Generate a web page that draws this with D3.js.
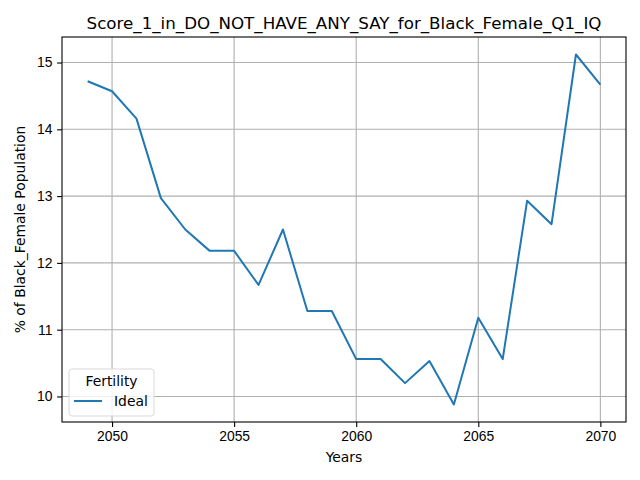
<!DOCTYPE html>
<html>
<head>
<meta charset="utf-8">
<script src="https://cdn.jsdelivr.net/npm/d3@7"></script>
<style>
  body { margin: 0; background: #fff; }
  svg { font-family: "DejaVu Sans", sans-serif; }
  .axis text { font-size: 13.9px; fill: #000; }
  .axis path, .axis line { stroke: #000; stroke-width: 1.1; }
  .grid line { stroke: #b0b0b0; stroke-width: 1.1; }
</style>
</head>
<body>
<div id="chart"></div>
<script>
// values
var years = [2049, 2050, 2051, 2052, 2053, 2054, 2055, 2056, 2057, 2058, 2059,
             2060, 2061, 2062, 2063, 2064, 2065, 2066, 2067, 2068, 2069, 2070];
var ideal = [14.72, 14.57, 14.16, 12.97, 12.50, 12.18, 12.18, 11.67, 12.50, 11.28, 11.28,
             10.56, 10.56, 10.20, 10.53, 9.88, 11.18, 10.56, 12.93, 12.58, 15.12, 14.67];
var xTicks = [2050, 2055, 2060, 2065, 2070];
var yTicks = [10, 11, 12, 13, 14, 15];

var width = 640, height = 480;
var margin = {top: 37, right: 14, bottom: 58, left: 62};
var w = width - margin.left - margin.right;
var h = height - margin.top - margin.bottom;

var svg = d3.select('#chart').append('svg')
    .attr('width', width)
    .attr('height', height);

var g = svg.append('g')
    .attr('transform', 'translate(' + margin.left + ',' + margin.top + ')');

// matplotlib-like 5% padding on the data range
var xPad = (d3.max(years) - d3.min(years)) * 0.05;
var yPad = (d3.max(ideal) - d3.min(ideal)) * 0.05;

var x = d3.scaleLinear()
    .domain([d3.min(years) - xPad, d3.max(years) + xPad])
    .range([0, w]);

var y = d3.scaleLinear()
    .domain([d3.min(ideal) - yPad, d3.max(ideal) + yPad])
    .range([h, 0]);

// grid
g.append('g')
    .attr('class', 'grid')
    .selectAll('line.v')
    .data(xTicks)
    .enter().append('line')
    .attr('x1', function(d) { return x(d); })
    .attr('x2', function(d) { return x(d); })
    .attr('y1', 0)
    .attr('y2', h);

g.append('g')
    .attr('class', 'grid')
    .selectAll('line.h')
    .data(yTicks)
    .enter().append('line')
    .attr('x1', 0)
    .attr('x2', w)
    .attr('y1', function(d) { return y(d); })
    .attr('y2', function(d) { return y(d); });

// line
var line = d3.line()
    .x(function(d, i) { return x(years[i]); })
    .y(function(d) { return y(d); });

g.append('path')
    .datum(ideal)
    .attr('fill', 'none')
    .attr('stroke', '#1f77b4')
    .attr('stroke-width', 2)
    .attr('stroke-linejoin', 'round')
    .attr('d', line);

// axes
var xAxis = d3.axisBottom(x).tickValues(xTicks).tickSize(4.9).tickPadding(4.7)
    .tickFormat(d3.format('d'));
var yAxis = d3.axisLeft(y).tickValues(yTicks).tickSize(4.9).tickPadding(4.7)
    .tickFormat(d3.format('d'));

g.append('g')
    .attr('class', 'axis')
    .attr('transform', 'translate(0,' + h + ')')
    .call(xAxis)
    .call(function(s) { s.select('.domain').remove(); });

g.append('g')
    .attr('class', 'axis')
    .call(yAxis)
    .call(function(s) { s.select('.domain').remove(); });

// frame
g.append('rect')
    .attr('width', w)
    .attr('height', h)
    .attr('fill', 'none')
    .attr('stroke', '#000')
    .attr('stroke-width', 1.1);

// labels
svg.append('text')
    .attr('x', margin.left + w / 2)
    .attr('y', 29)
    .attr('text-anchor', 'middle')
    .style('font-size', '16.7px')
    .text('Score_1_in_DO_NOT_HAVE_ANY_SAY_for_Black_Female_Q1_IQ');

svg.append('text')
    .attr('x', margin.left + w / 2)
    .attr('y', 462)
    .attr('text-anchor', 'middle')
    .style('font-size', '13.9px')
    .text('Years');

svg.append('text')
    .attr('transform', 'translate(25,' + (margin.top + h / 2) + ') rotate(-90)')
    .attr('text-anchor', 'middle')
    .style('font-size', '13.9px')
    .text('% of Black_Female Population');

// legend
var legend = g.append('g')
    .attr('transform', 'translate(7,' + (h - 53) + ')');

legend.append('rect')
    .attr('width', 85)
    .attr('height', 47)
    .attr('rx', 3)
    .attr('fill', '#fff')
    .attr('fill-opacity', 0.8)
    .attr('stroke', '#d9d9d9');

legend.append('text')
    .attr('x', 42.5)
    .attr('y', 17)
    .attr('text-anchor', 'middle')
    .style('font-size', '13.9px')
    .text('Fertility');

legend.append('line')
    .attr('x1', 5)
    .attr('x2', 33)
    .attr('y1', 32)
    .attr('y2', 32)
    .attr('stroke', '#1f77b4')
    .attr('stroke-width', 2);

legend.append('text')
    .attr('x', 45)
    .attr('y', 37)
    .style('font-size', '13.9px')
    .text('Ideal');
</script>
</body>
</html>
